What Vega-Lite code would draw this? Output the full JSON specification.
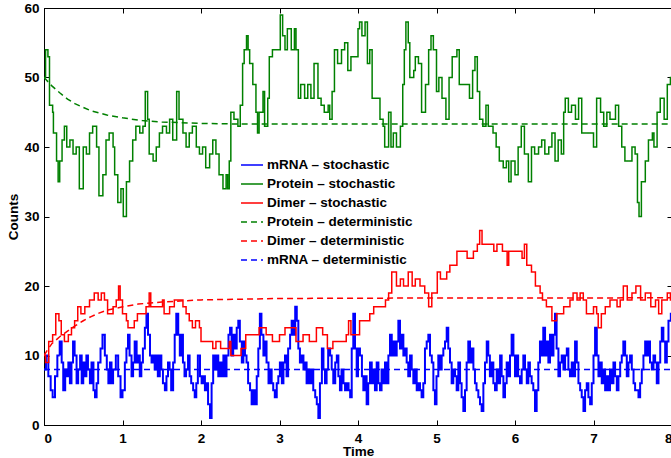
{
"$schema": "https://vega.github.io/schema/vega-lite/v6.json",
"width": 628, "height": 417,
"autosize": {"type": "none"},
"padding": {"left": 44, "top": 8, "right": 0, "bottom": 33},
"background": "white",
"config": {
  "view": {"stroke": "black", "strokeWidth": 1},
  "font": "Liberation Sans",
  "axis": {"domainColor": "black", "tickColor": "black", "labelColor": "black", "titleColor": "black", "labelFont": "Liberation Sans", "titleFont": "Liberation Sans", "labelFontSize": 13.5, "labelFontWeight": "bold", "titleFontSize": 13.5, "titleFontWeight": "bold", "grid": false, "tickSize": -5, "domainWidth": 1},
  "legend": {"orient": "none", "legendX": 196, "legendY": 145, "symbolType": "stroke", "symbolSize": 484, "symbolStrokeWidth": 1.5, "labelFont": "Liberation Sans", "labelFontSize": 13.5, "labelFontWeight": "bold", "labelColor": "black", "labelOffset": 3, "labelLimit": 300, "rowPadding": 0, "padding": 0, "offset": 0}
},
"datasets": {
"stoch": [
{"series":"ms","t":0,"count":8},{"series":"ms","t":0.025,"count":10},{"series":"ms","t":0.055,"count":7},{"series":"ms","t":0.085,"count":5},{"series":"ms","t":0.11,"count":4},{"series":"ms","t":0.14,"count":7},{"series":"ms","t":0.17,"count":10},{"series":"ms","t":0.2,"count":12},{"series":"ms","t":0.225,"count":9},{"series":"ms","t":0.245,"count":5},{"series":"ms","t":0.27,"count":8},{"series":"ms","t":0.29,"count":7},{"series":"ms","t":0.31,"count":9},{"series":"ms","t":0.33,"count":6},{"series":"ms","t":0.35,"count":9},{"series":"ms","t":0.37,"count":12},{"series":"ms","t":0.39,"count":10},{"series":"ms","t":0.415,"count":6},{"series":"ms","t":0.435,"count":8},{"series":"ms","t":0.46,"count":10},{"series":"ms","t":0.48,"count":6},{"series":"ms","t":0.5,"count":9},{"series":"ms","t":0.52,"count":7},{"series":"ms","t":0.54,"count":10},{"series":"ms","t":0.56,"count":8},{"series":"ms","t":0.585,"count":6},{"series":"ms","t":0.605,"count":9},{"series":"ms","t":0.63,"count":5},{"series":"ms","t":0.65,"count":4},{"series":"ms","t":0.67,"count":6},{"series":"ms","t":0.69,"count":9},{"series":"ms","t":0.72,"count":11},{"series":"ms","t":0.745,"count":13},{"series":"ms","t":0.775,"count":10},{"series":"ms","t":0.8,"count":8},{"series":"ms","t":0.82,"count":6},{"series":"ms","t":0.84,"count":9},{"series":"ms","t":0.86,"count":6},{"series":"ms","t":0.88,"count":8},{"series":"ms","t":0.915,"count":10},{"series":"ms","t":0.945,"count":7},{"series":"ms","t":0.975,"count":4},{"series":"ms","t":1.0,"count":5},{"series":"ms","t":1.03,"count":9},{"series":"ms","t":1.05,"count":11},{"series":"ms","t":1.07,"count":13},{"series":"ms","t":1.09,"count":10},{"series":"ms","t":1.115,"count":7},{"series":"ms","t":1.135,"count":9},{"series":"ms","t":1.155,"count":12},{"series":"ms","t":1.18,"count":9},{"series":"ms","t":1.2,"count":10},{"series":"ms","t":1.22,"count":7},{"series":"ms","t":1.24,"count":9},{"series":"ms","t":1.26,"count":11},{"series":"ms","t":1.285,"count":14},{"series":"ms","t":1.305,"count":16},{"series":"ms","t":1.325,"count":13},{"series":"ms","t":1.35,"count":10},{"series":"ms","t":1.37,"count":9},{"series":"ms","t":1.39,"count":10},{"series":"ms","t":1.41,"count":8},{"series":"ms","t":1.43,"count":10},{"series":"ms","t":1.45,"count":7},{"series":"ms","t":1.475,"count":10},{"series":"ms","t":1.495,"count":8},{"series":"ms","t":1.515,"count":6},{"series":"ms","t":1.54,"count":5},{"series":"ms","t":1.56,"count":7},{"series":"ms","t":1.58,"count":9},{"series":"ms","t":1.6,"count":8},{"series":"ms","t":1.62,"count":5},{"series":"ms","t":1.645,"count":9},{"series":"ms","t":1.665,"count":13},{"series":"ms","t":1.685,"count":16},{"series":"ms","t":1.71,"count":13},{"series":"ms","t":1.73,"count":10},{"series":"ms","t":1.75,"count":13},{"series":"ms","t":1.77,"count":9},{"series":"ms","t":1.79,"count":7},{"series":"ms","t":1.81,"count":8},{"series":"ms","t":1.835,"count":10},{"series":"ms","t":1.855,"count":7},{"series":"ms","t":1.875,"count":6},{"series":"ms","t":1.9,"count":5},{"series":"ms","t":1.92,"count":4},{"series":"ms","t":1.94,"count":6},{"series":"ms","t":1.96,"count":10},
{"series":"ms","t":1.987,"count":7},{"series":"ms","t":2.008,"count":6},{"series":"ms","t":2.03,"count":7},{"series":"ms","t":2.05,"count":5},{"series":"ms","t":2.07,"count":6},{"series":"ms","t":2.09,"count":3},{"series":"ms","t":2.115,"count":1},{"series":"ms","t":2.135,"count":6},{"series":"ms","t":2.155,"count":10},{"series":"ms","t":2.18,"count":8},{"series":"ms","t":2.2,"count":10},{"series":"ms","t":2.22,"count":7},{"series":"ms","t":2.24,"count":9},{"series":"ms","t":2.26,"count":7},{"series":"ms","t":2.285,"count":10},{"series":"ms","t":2.305,"count":7},{"series":"ms","t":2.325,"count":10},{"series":"ms","t":2.35,"count":13},{"series":"ms","t":2.37,"count":14},{"series":"ms","t":2.39,"count":10},{"series":"ms","t":2.41,"count":13},{"series":"ms","t":2.43,"count":11},{"series":"ms","t":2.455,"count":14},{"series":"ms","t":2.475,"count":15},{"series":"ms","t":2.495,"count":12},{"series":"ms","t":2.52,"count":9},{"series":"ms","t":2.54,"count":12},{"series":"ms","t":2.56,"count":10},{"series":"ms","t":2.58,"count":9},{"series":"ms","t":2.6,"count":6},{"series":"ms","t":2.625,"count":5},{"series":"ms","t":2.645,"count":3},{"series":"ms","t":2.665,"count":5},{"series":"ms","t":2.69,"count":3},{"series":"ms","t":2.71,"count":7},{"series":"ms","t":2.73,"count":11},{"series":"ms","t":2.75,"count":16},{"series":"ms","t":2.77,"count":13},{"series":"ms","t":2.795,"count":10},{"series":"ms","t":2.815,"count":12},{"series":"ms","t":2.835,"count":9},{"series":"ms","t":2.86,"count":6},{"series":"ms","t":2.88,"count":8},{"series":"ms","t":2.9,"count":6},{"series":"ms","t":2.92,"count":5},{"series":"ms","t":2.94,"count":4},{"series":"ms","t":2.965,"count":6},{"series":"ms","t":2.985,"count":7},{"series":"ms","t":3.005,"count":9},{"series":"ms","t":3.03,"count":6},{"series":"ms","t":3.05,"count":9},{"series":"ms","t":3.07,"count":10},{"series":"ms","t":3.09,"count":7},{"series":"ms","t":3.11,"count":11},{"series":"ms","t":3.135,"count":13},{"series":"ms","t":3.155,"count":15},{"series":"ms","t":3.175,"count":13},{"series":"ms","t":3.2,"count":17},{"series":"ms","t":3.22,"count":15},{"series":"ms","t":3.24,"count":11},{"series":"ms","t":3.26,"count":9},{"series":"ms","t":3.28,"count":10},{"series":"ms","t":3.305,"count":8},{"series":"ms","t":3.325,"count":9},{"series":"ms","t":3.345,"count":6},{"series":"ms","t":3.37,"count":8},{"series":"ms","t":3.39,"count":6},{"series":"ms","t":3.41,"count":8},{"series":"ms","t":3.43,"count":5},{"series":"ms","t":3.455,"count":4},{"series":"ms","t":3.475,"count":3},{"series":"ms","t":3.495,"count":1},{"series":"ms","t":3.515,"count":6},{"series":"ms","t":3.54,"count":11},{"series":"ms","t":3.56,"count":8},{"series":"ms","t":3.58,"count":6},{"series":"ms","t":3.6,"count":8},{"series":"ms","t":3.62,"count":11},{"series":"ms","t":3.645,"count":10},{"series":"ms","t":3.665,"count":8},{"series":"ms","t":3.685,"count":6},{"series":"ms","t":3.71,"count":9},{"series":"ms","t":3.73,"count":10},{"series":"ms","t":3.75,"count":7},{"series":"ms","t":3.77,"count":5},{"series":"ms","t":3.79,"count":8},{"series":"ms","t":3.815,"count":6},{"series":"ms","t":3.835,"count":5},{"series":"ms","t":3.855,"count":6},{"series":"ms","t":3.88,"count":5},{"series":"ms","t":3.9,"count":4},{"series":"ms","t":3.92,"count":11},{"series":"ms","t":3.94,"count":16},
{"series":"ms","t":3.962,"count":11},{"series":"ms","t":3.983,"count":7},{"series":"ms","t":4.0,"count":11},{"series":"ms","t":4.025,"count":10},{"series":"ms","t":4.05,"count":7},{"series":"ms","t":4.068,"count":5},{"series":"ms","t":4.09,"count":7},{"series":"ms","t":4.11,"count":3},{"series":"ms","t":4.13,"count":6},{"series":"ms","t":4.153,"count":9},{"series":"ms","t":4.175,"count":6},{"series":"ms","t":4.195,"count":8},{"series":"ms","t":4.216,"count":5},{"series":"ms","t":4.238,"count":9},{"series":"ms","t":4.26,"count":6},{"series":"ms","t":4.28,"count":5},{"series":"ms","t":4.3,"count":8},{"series":"ms","t":4.323,"count":6},{"series":"ms","t":4.344,"count":9},{"series":"ms","t":4.365,"count":6},{"series":"ms","t":4.387,"count":10},{"series":"ms","t":4.408,"count":13},{"series":"ms","t":4.43,"count":10},{"series":"ms","t":4.45,"count":12},{"series":"ms","t":4.47,"count":10},{"series":"ms","t":4.493,"count":12},{"series":"ms","t":4.514,"count":15},{"series":"ms","t":4.535,"count":11},{"series":"ms","t":4.556,"count":13},{"series":"ms","t":4.578,"count":10},{"series":"ms","t":4.6,"count":11},{"series":"ms","t":4.62,"count":9},{"series":"ms","t":4.64,"count":7},{"series":"ms","t":4.663,"count":10},{"series":"ms","t":4.684,"count":8},{"series":"ms","t":4.705,"count":6},{"series":"ms","t":4.727,"count":8},{"series":"ms","t":4.748,"count":5},{"series":"ms","t":4.77,"count":6},{"series":"ms","t":4.79,"count":5},{"series":"ms","t":4.81,"count":4},{"series":"ms","t":4.832,"count":6},{"series":"ms","t":4.853,"count":11},{"series":"ms","t":4.875,"count":12},{"series":"ms","t":4.896,"count":13},{"series":"ms","t":4.917,"count":10},{"series":"ms","t":4.94,"count":9},{"series":"ms","t":4.96,"count":5},{"series":"ms","t":4.98,"count":3},{"series":"ms","t":5.0,"count":7},{"series":"ms","t":5.023,"count":10},{"series":"ms","t":5.045,"count":8},{"series":"ms","t":5.066,"count":10},{"series":"ms","t":5.087,"count":11},{"series":"ms","t":5.108,"count":12},{"series":"ms","t":5.13,"count":14},{"series":"ms","t":5.15,"count":11},{"series":"ms","t":5.172,"count":9},{"series":"ms","t":5.193,"count":6},{"series":"ms","t":5.214,"count":8},{"series":"ms","t":5.236,"count":7},{"series":"ms","t":5.257,"count":5},{"series":"ms","t":5.278,"count":9},{"series":"ms","t":5.3,"count":6},{"series":"ms","t":5.32,"count":4},{"series":"ms","t":5.342,"count":2},{"series":"ms","t":5.363,"count":5},{"series":"ms","t":5.384,"count":9},{"series":"ms","t":5.405,"count":12},{"series":"ms","t":5.427,"count":9},{"series":"ms","t":5.448,"count":11},{"series":"ms","t":5.47,"count":8},{"series":"ms","t":5.49,"count":6},{"series":"ms","t":5.51,"count":5},{"series":"ms","t":5.533,"count":4},{"series":"ms","t":5.554,"count":3},{"series":"ms","t":5.575,"count":2},{"series":"ms","t":5.597,"count":6},{"series":"ms","t":5.618,"count":9},{"series":"ms","t":5.64,"count":12},{"series":"ms","t":5.66,"count":10},{"series":"ms","t":5.68,"count":7},{"series":"ms","t":5.703,"count":9},{"series":"ms","t":5.724,"count":6},{"series":"ms","t":5.745,"count":5},{"series":"ms","t":5.767,"count":8},{"series":"ms","t":5.788,"count":6},{"series":"ms","t":5.81,"count":10},{"series":"ms","t":5.83,"count":7},{"series":"ms","t":5.852,"count":4},{"series":"ms","t":5.873,"count":6},{"series":"ms","t":5.894,"count":9},{"series":"ms","t":5.915,"count":7},
{"series":"ms","t":5.936,"count":10},{"series":"ms","t":5.957,"count":13},{"series":"ms","t":5.98,"count":10},{"series":"ms","t":6.0,"count":7},{"series":"ms","t":6.02,"count":10},{"series":"ms","t":6.04,"count":7},{"series":"ms","t":6.064,"count":6},{"series":"ms","t":6.085,"count":8},{"series":"ms","t":6.106,"count":10},{"series":"ms","t":6.127,"count":8},{"series":"ms","t":6.15,"count":6},{"series":"ms","t":6.17,"count":9},{"series":"ms","t":6.19,"count":7},{"series":"ms","t":6.212,"count":6},{"series":"ms","t":6.233,"count":5},{"series":"ms","t":6.255,"count":2},{"series":"ms","t":6.276,"count":5},{"series":"ms","t":6.297,"count":9},{"series":"ms","t":6.318,"count":12},{"series":"ms","t":6.34,"count":10},{"series":"ms","t":6.36,"count":14},{"series":"ms","t":6.383,"count":10},{"series":"ms","t":6.404,"count":12},{"series":"ms","t":6.425,"count":9},{"series":"ms","t":6.446,"count":13},{"series":"ms","t":6.468,"count":10},{"series":"ms","t":6.49,"count":13},{"series":"ms","t":6.51,"count":16},{"series":"ms","t":6.53,"count":11},{"series":"ms","t":6.553,"count":7},{"series":"ms","t":6.574,"count":9},{"series":"ms","t":6.595,"count":10},{"series":"ms","t":6.617,"count":8},{"series":"ms","t":6.638,"count":10},{"series":"ms","t":6.66,"count":11},{"series":"ms","t":6.68,"count":8},{"series":"ms","t":6.7,"count":7},{"series":"ms","t":6.723,"count":9},{"series":"ms","t":6.744,"count":7},{"series":"ms","t":6.765,"count":12},{"series":"ms","t":6.787,"count":9},{"series":"ms","t":6.808,"count":6},{"series":"ms","t":6.83,"count":5},{"series":"ms","t":6.85,"count":4},{"series":"ms","t":6.872,"count":2},{"series":"ms","t":6.893,"count":5},{"series":"ms","t":6.914,"count":6},{"series":"ms","t":6.935,"count":4},{"series":"ms","t":6.957,"count":3},{"series":"ms","t":6.978,"count":6},{"series":"ms","t":7.0,"count":10},{"series":"ms","t":7.02,"count":14},{"series":"ms","t":7.042,"count":10},{"series":"ms","t":7.063,"count":7},{"series":"ms","t":7.085,"count":9},{"series":"ms","t":7.105,"count":6},{"series":"ms","t":7.127,"count":8},{"series":"ms","t":7.148,"count":5},{"series":"ms","t":7.17,"count":7},{"series":"ms","t":7.19,"count":5},{"series":"ms","t":7.21,"count":8},{"series":"ms","t":7.233,"count":6},{"series":"ms","t":7.254,"count":9},{"series":"ms","t":7.275,"count":7},{"series":"ms","t":7.297,"count":5},{"series":"ms","t":7.318,"count":7},{"series":"ms","t":7.34,"count":9},{"series":"ms","t":7.36,"count":10},{"series":"ms","t":7.38,"count":12},{"series":"ms","t":7.403,"count":10},{"series":"ms","t":7.424,"count":7},{"series":"ms","t":7.445,"count":9},{"series":"ms","t":7.466,"count":10},{"series":"ms","t":7.488,"count":8},{"series":"ms","t":7.51,"count":6},{"series":"ms","t":7.53,"count":5},{"series":"ms","t":7.573,"count":4},{"series":"ms","t":7.594,"count":6},{"series":"ms","t":7.615,"count":8},{"series":"ms","t":7.636,"count":10},{"series":"ms","t":7.658,"count":12},{"series":"ms","t":7.68,"count":10},{"series":"ms","t":7.7,"count":12},{"series":"ms","t":7.72,"count":9},{"series":"ms","t":7.743,"count":8},{"series":"ms","t":7.764,"count":10},{"series":"ms","t":7.785,"count":9},{"series":"ms","t":7.806,"count":6},{"series":"ms","t":7.828,"count":9},{"series":"ms","t":7.85,"count":12},{"series":"ms","t":7.87,"count":14},{"series":"ms","t":7.89,"count":12},{"series":"ms","t":7.913,"count":9},{"series":"ms","t":7.934,"count":12},{"series":"ms","t":7.955,"count":15},{"series":"ms","t":7.985,"count":16},{"series":"ms","t":8.0,"count":16},
{"series":"ps","t":0,"count":50},{"series":"ps","t":0.02,"count":54},{"series":"ps","t":0.05,"count":53},{"series":"ps","t":0.07,"count":46},{"series":"ps","t":0.11,"count":45},{"series":"ps","t":0.12,"count":42},{"series":"ps","t":0.16,"count":38},{"series":"ps","t":0.18,"count":35},{"series":"ps","t":0.2,"count":38},{"series":"ps","t":0.23,"count":41},{"series":"ps","t":0.26,"count":43},{"series":"ps","t":0.29,"count":40},{"series":"ps","t":0.33,"count":41},{"series":"ps","t":0.37,"count":39},{"series":"ps","t":0.41,"count":40},{"series":"ps","t":0.45,"count":34},{"series":"ps","t":0.5,"count":40},{"series":"ps","t":0.54,"count":39},{"series":"ps","t":0.58,"count":42},{"series":"ps","t":0.62,"count":43},{"series":"ps","t":0.67,"count":40},{"series":"ps","t":0.7,"count":33},{"series":"ps","t":0.75,"count":36},{"series":"ps","t":0.79,"count":41},{"series":"ps","t":0.83,"count":42},{"series":"ps","t":0.88,"count":40},{"series":"ps","t":0.9,"count":36},{"series":"ps","t":0.94,"count":32},{"series":"ps","t":0.98,"count":34},{"series":"ps","t":1.01,"count":30},{"series":"ps","t":1.05,"count":35},{"series":"ps","t":1.09,"count":38},{"series":"ps","t":1.13,"count":41},{"series":"ps","t":1.17,"count":43},{"series":"ps","t":1.22,"count":42},{"series":"ps","t":1.26,"count":43},{"series":"ps","t":1.29,"count":48},{"series":"ps","t":1.32,"count":44},{"series":"ps","t":1.34,"count":39},{"series":"ps","t":1.39,"count":38},{"series":"ps","t":1.43,"count":40},{"series":"ps","t":1.47,"count":42},{"series":"ps","t":1.51,"count":43},{"series":"ps","t":1.56,"count":42},{"series":"ps","t":1.6,"count":44},{"series":"ps","t":1.64,"count":41},{"series":"ps","t":1.69,"count":48},{"series":"ps","t":1.72,"count":44},{"series":"ps","t":1.77,"count":42},{"series":"ps","t":1.81,"count":40},{"series":"ps","t":1.85,"count":42},{"series":"ps","t":1.89,"count":43},{"series":"ps","t":1.94,"count":40},{"series":"ps","t":1.98,"count":39},{"series":"ps","t":2.02,"count":40},{"series":"ps","t":2.06,"count":37},{"series":"ps","t":2.11,"count":39},{"series":"ps","t":2.15,"count":41},{"series":"ps","t":2.19,"count":39},{"series":"ps","t":2.23,"count":36},{"series":"ps","t":2.28,"count":34},{"series":"ps","t":2.32,"count":36},{"series":"ps","t":2.34,"count":34},{"series":"ps","t":2.36,"count":38},{"series":"ps","t":2.38,"count":45},{"series":"ps","t":2.42,"count":44},{"series":"ps","t":2.47,"count":43},{"series":"ps","t":2.5,"count":46},{"series":"ps","t":2.53,"count":52},{"series":"ps","t":2.55,"count":54},
{"series":"ps","t":2.58,"count":56},{"series":"ps","t":2.6,"count":54},{"series":"ps","t":2.62,"count":52},{"series":"ps","t":2.66,"count":49},{"series":"ps","t":2.7,"count":45},{"series":"ps","t":2.72,"count":42},{"series":"ps","t":2.74,"count":45},{"series":"ps","t":2.79,"count":48},{"series":"ps","t":2.81,"count":43},{"series":"ps","t":2.85,"count":47},{"series":"ps","t":2.87,"count":53},{"series":"ps","t":2.91,"count":54},{"series":"ps","t":2.96,"count":54},{"series":"ps","t":3.01,"count":59},{"series":"ps","t":3.04,"count":56},{"series":"ps","t":3.07,"count":54},{"series":"ps","t":3.1,"count":57},{"series":"ps","t":3.15,"count":54},{"series":"ps","t":3.19,"count":57},{"series":"ps","t":3.21,"count":54},{"series":"ps","t":3.24,"count":47},{"series":"ps","t":3.27,"count":49},{"series":"ps","t":3.32,"count":47},{"series":"ps","t":3.36,"count":49},{"series":"ps","t":3.4,"count":47},{"series":"ps","t":3.44,"count":52},{"series":"ps","t":3.49,"count":47},{"series":"ps","t":3.53,"count":46},{"series":"ps","t":3.57,"count":45},{"series":"ps","t":3.62,"count":46},{"series":"ps","t":3.64,"count":44},{"series":"ps","t":3.67,"count":48},{"series":"ps","t":3.7,"count":54},{"series":"ps","t":3.74,"count":52},{"series":"ps","t":3.79,"count":54},{"series":"ps","t":3.83,"count":55},{"series":"ps","t":3.87,"count":51},{"series":"ps","t":3.91,"count":53},
{"series":"ps","t":3.96,"count":53},{"series":"ps","t":4.0,"count":57},{"series":"ps","t":4.02,"count":58},{"series":"ps","t":4.05,"count":56},{"series":"ps","t":4.09,"count":58},{"series":"ps","t":4.12,"count":52},{"series":"ps","t":4.15,"count":54},{"series":"ps","t":4.18,"count":47},{"series":"ps","t":4.28,"count":44},{"series":"ps","t":4.32,"count":43},{"series":"ps","t":4.34,"count":40},{"series":"ps","t":4.39,"count":45},{"series":"ps","t":4.42,"count":40},{"series":"ps","t":4.45,"count":42},{"series":"ps","t":4.49,"count":40},{"series":"ps","t":4.54,"count":43},{"series":"ps","t":4.57,"count":49},{"series":"ps","t":4.59,"count":54},{"series":"ps","t":4.61,"count":58},{"series":"ps","t":4.64,"count":55},{"series":"ps","t":4.66,"count":50},{"series":"ps","t":4.71,"count":51},{"series":"ps","t":4.73,"count":53},{"series":"ps","t":4.77,"count":52},{"series":"ps","t":4.81,"count":45},{"series":"ps","t":4.86,"count":49},{"series":"ps","t":4.9,"count":54},{"series":"ps","t":4.93,"count":56},{"series":"ps","t":4.96,"count":54},{"series":"ps","t":5.0,"count":48},{"series":"ps","t":5.03,"count":50},{"series":"ps","t":5.07,"count":47},{"series":"ps","t":5.12,"count":44},{"series":"ps","t":5.16,"count":50},{"series":"ps","t":5.2,"count":53},{"series":"ps","t":5.26,"count":54},{"series":"ps","t":5.29,"count":49},{"series":"ps","t":5.42,"count":47},{"series":"ps","t":5.46,"count":51},{"series":"ps","t":5.49,"count":53},{"series":"ps","t":5.52,"count":48},{"series":"ps","t":5.55,"count":44},{"series":"ps","t":5.59,"count":43},{"series":"ps","t":5.63,"count":46},{"series":"ps","t":5.66,"count":43},{"series":"ps","t":5.72,"count":42},{"series":"ps","t":5.76,"count":40},{"series":"ps","t":5.8,"count":38},{"series":"ps","t":5.85,"count":37},{"series":"ps","t":5.89,"count":38},{"series":"ps","t":5.92,"count":35},{"series":"ps","t":5.95,"count":38},{"series":"ps","t":6.0,"count":36},{"series":"ps","t":6.04,"count":40},{"series":"ps","t":6.08,"count":43},{"series":"ps","t":6.12,"count":39},{"series":"ps","t":6.17,"count":35},{"series":"ps","t":6.21,"count":40},{"series":"ps","t":6.25,"count":39},{"series":"ps","t":6.3,"count":40},{"series":"ps","t":6.34,"count":41},{"series":"ps","t":6.38,"count":39},{"series":"ps","t":6.43,"count":40},{"series":"ps","t":6.47,"count":42},{"series":"ps","t":6.51,"count":38},{"series":"ps","t":6.55,"count":41},{"series":"ps","t":6.59,"count":39},{"series":"ps","t":6.62,"count":45},{"series":"ps","t":6.64,"count":47},{"series":"ps","t":6.68,"count":45},{"series":"ps","t":6.72,"count":46},{"series":"ps","t":6.77,"count":44},{"series":"ps","t":6.81,"count":47},{"series":"ps","t":6.85,"count":42},{"series":"ps","t":7.0,"count":40},{"series":"ps","t":7.04,"count":47},{"series":"ps","t":7.09,"count":45},{"series":"ps","t":7.13,"count":43},{"series":"ps","t":7.17,"count":45},{"series":"ps","t":7.21,"count":44},{"series":"ps","t":7.28,"count":46},{"series":"ps","t":7.32,"count":43},{"series":"ps","t":7.36,"count":40},{"series":"ps","t":7.4,"count":38},{"series":"ps","t":7.49,"count":40},{"series":"ps","t":7.53,"count":39},{"series":"ps","t":7.56,"count":32},{"series":"ps","t":7.58,"count":30},{"series":"ps","t":7.61,"count":35},{"series":"ps","t":7.66,"count":38},{"series":"ps","t":7.7,"count":41},{"series":"ps","t":7.75,"count":42},{"series":"ps","t":7.77,"count":40},{"series":"ps","t":7.81,"count":45},{"series":"ps","t":7.85,"count":47},{"series":"ps","t":7.9,"count":44},{"series":"ps","t":7.94,"count":49},{"series":"ps","t":7.98,"count":50},{"series":"ps","t":8.0,"count":52},
{"series":"ds","t":0,"count":10},{"series":"ds","t":0.02,"count":9},{"series":"ds","t":0.06,"count":12},{"series":"ds","t":0.11,"count":13},{"series":"ds","t":0.15,"count":16},{"series":"ds","t":0.19,"count":15},{"series":"ds","t":0.22,"count":13},{"series":"ds","t":0.26,"count":12},{"series":"ds","t":0.31,"count":13},{"series":"ds","t":0.35,"count":14},{"series":"ds","t":0.39,"count":15},{"series":"ds","t":0.43,"count":17},{"series":"ds","t":0.47,"count":16},{"series":"ds","t":0.52,"count":17},{"series":"ds","t":0.58,"count":18},{"series":"ds","t":0.64,"count":19},{"series":"ds","t":0.69,"count":18},{"series":"ds","t":0.73,"count":19},{"series":"ds","t":0.77,"count":18},{"series":"ds","t":0.81,"count":16},{"series":"ds","t":0.88,"count":17},{"series":"ds","t":0.92,"count":18},{"series":"ds","t":0.95,"count":20},{"series":"ds","t":0.97,"count":18},{"series":"ds","t":1.0,"count":16},{"series":"ds","t":1.05,"count":15},{"series":"ds","t":1.07,"count":14},{"series":"ds","t":1.15,"count":15},{"series":"ds","t":1.19,"count":16},{"series":"ds","t":1.3,"count":17},{"series":"ds","t":1.34,"count":19},{"series":"ds","t":1.36,"count":17},{"series":"ds","t":1.51,"count":18},{"series":"ds","t":1.53,"count":16},{"series":"ds","t":1.6,"count":17},{"series":"ds","t":1.66,"count":18},{"series":"ds","t":1.77,"count":17},{"series":"ds","t":1.81,"count":16},{"series":"ds","t":1.85,"count":15},{"series":"ds","t":1.89,"count":14},{"series":"ds","t":1.93,"count":15},{"series":"ds","t":1.98,"count":14},{"series":"ds","t":2.0,"count":12},{"series":"ds","t":2.15,"count":11},{"series":"ds","t":2.19,"count":12},{"series":"ds","t":2.25,"count":11},{"series":"ds","t":2.36,"count":12},{"series":"ds","t":2.38,"count":10},{"series":"ds","t":2.51,"count":11},{"series":"ds","t":2.57,"count":13},{"series":"ds","t":2.74,"count":14},{"series":"ds","t":2.83,"count":13},{"series":"ds","t":2.91,"count":12},{"series":"ds","t":3.0,"count":13},{"series":"ds","t":3.07,"count":14},{"series":"ds","t":3.21,"count":12},{"series":"ds","t":3.3,"count":13},{"series":"ds","t":3.38,"count":12},{"series":"ds","t":3.47,"count":14},{"series":"ds","t":3.55,"count":13},{"series":"ds","t":3.61,"count":11},{"series":"ds","t":3.68,"count":12},{"series":"ds","t":3.85,"count":13},{"series":"ds","t":3.88,"count":15},{"series":"ds","t":3.91,"count":13},{"series":"ds","t":4.02,"count":15},{"series":"ds","t":4.15,"count":16},{"series":"ds","t":4.2,"count":17},{"series":"ds","t":4.35,"count":18},{"series":"ds","t":4.39,"count":19},{"series":"ds","t":4.43,"count":22},{"series":"ds","t":4.49,"count":20},{"series":"ds","t":4.54,"count":21},{"series":"ds","t":4.58,"count":20},{"series":"ds","t":4.64,"count":22},{"series":"ds","t":4.69,"count":20},{"series":"ds","t":4.73,"count":21},{"series":"ds","t":4.79,"count":20},{"series":"ds","t":4.85,"count":19},{"series":"ds","t":4.9,"count":17},{"series":"ds","t":4.94,"count":19},{"series":"ds","t":5.01,"count":22},{"series":"ds","t":5.05,"count":21},{"series":"ds","t":5.13,"count":22},{"series":"ds","t":5.17,"count":23},{"series":"ds","t":5.26,"count":25},{"series":"ds","t":5.39,"count":24},{"series":"ds","t":5.47,"count":25},{"series":"ds","t":5.52,"count":26},{"series":"ds","t":5.55,"count":28},{"series":"ds","t":5.58,"count":26},{"series":"ds","t":5.73,"count":25},{"series":"ds","t":5.77,"count":26},{"series":"ds","t":5.84,"count":25},{"series":"ds","t":5.9,"count":23},{"series":"ds","t":5.92,"count":25},{"series":"ds","t":6.09,"count":24},{"series":"ds","t":6.12,"count":26},{"series":"ds","t":6.15,"count":23},{"series":"ds","t":6.21,"count":22},{"series":"ds","t":6.26,"count":20},{"series":"ds","t":6.32,"count":19},{"series":"ds","t":6.35,"count":18},{"series":"ds","t":6.4,"count":17},{"series":"ds","t":6.47,"count":15},{"series":"ds","t":6.53,"count":16},{"series":"ds","t":6.62,"count":17},{"series":"ds","t":6.7,"count":18},{"series":"ds","t":6.74,"count":19},{"series":"ds","t":6.79,"count":18},{"series":"ds","t":6.83,"count":19},{"series":"ds","t":6.87,"count":18},{"series":"ds","t":6.91,"count":16},{"series":"ds","t":7.0,"count":17},{"series":"ds","t":7.04,"count":16},{"series":"ds","t":7.06,"count":14},{"series":"ds","t":7.1,"count":16},{"series":"ds","t":7.15,"count":17},{"series":"ds","t":7.21,"count":18},{"series":"ds","t":7.3,"count":17},{"series":"ds","t":7.34,"count":18},{"series":"ds","t":7.38,"count":20},{"series":"ds","t":7.43,"count":18},{"series":"ds","t":7.49,"count":19},{"series":"ds","t":7.54,"count":20},{"series":"ds","t":7.6,"count":18},{"series":"ds","t":7.66,"count":19},{"series":"ds","t":7.73,"count":17},{"series":"ds","t":7.79,"count":18},{"series":"ds","t":7.83,"count":16},{"series":"ds","t":7.87,"count":18},{"series":"ds","t":7.94,"count":19},{"series":"ds","t":7.98,"count":18},{"series":"ds","t":8.0,"count":18}
],
"det": [
{"series":"pd","t":0,"count":50},{"series":"pd","t":0.1,"count":48.8},{"series":"pd","t":0.2,"count":47.8},{"series":"pd","t":0.3,"count":46.9},{"series":"pd","t":0.4,"count":46.2},{"series":"pd","t":0.5,"count":45.7},{"series":"pd","t":0.6,"count":45.2},{"series":"pd","t":0.7,"count":44.9},{"series":"pd","t":0.8,"count":44.6},{"series":"pd","t":1.0,"count":44.2},{"series":"pd","t":1.25,"count":43.8},{"series":"pd","t":1.5,"count":43.6},{"series":"pd","t":2.0,"count":43.4},{"series":"pd","t":2.5,"count":43.3},{"series":"pd","t":8,"count":43.3},
{"series":"dd","t":0,"count":10},{"series":"dd","t":0.05,"count":10.9},{"series":"dd","t":0.1,"count":11.7},{"series":"dd","t":0.2,"count":12.7},{"series":"dd","t":0.3,"count":13.5},{"series":"dd","t":0.4,"count":14.3},{"series":"dd","t":0.5,"count":15.0},{"series":"dd","t":0.6,"count":15.6},{"series":"dd","t":0.7,"count":16.1},{"series":"dd","t":0.8,"count":16.5},{"series":"dd","t":1.0,"count":17.0},{"series":"dd","t":1.2,"count":17.4},{"series":"dd","t":1.5,"count":17.7},{"series":"dd","t":2.0,"count":18.0},{"series":"dd","t":2.5,"count":18.1},{"series":"dd","t":3.0,"count":18.2},{"series":"dd","t":4.0,"count":18.25},{"series":"dd","t":8,"count":18.3},
{"series":"md","t":0,"count":8},{"series":"md","t":8,"count":8}
]
},
"layer": [
{
 "data": {"name": "stoch"},
 "transform": [{"filter": "datum.series == 'ms'"}],
 "mark": {"type": "line", "interpolate": "step-after", "strokeWidth": 2, "clip": true},
 "encoding": {
  "x": {"field": "t", "type": "quantitative", "scale": {"domain": [0, 8], "nice": false}, "axis": {"orient": "bottom", "values": [0,1,2,3,4,5,6,7,8], "title": "Time", "labelPadding": 11, "titlePadding": 0}},
  "y": {"field": "count", "type": "quantitative", "scale": {"domain": [0, 60], "nice": false}, "axis": {"orient": "left", "values": [0,10,20,30,40,50,60], "title": "Counts", "labelPadding": 10, "titlePadding": 3}},
  "color": {"field": "series", "type": "nominal", "scale": {"domain": ["ms","ps","ds","pd","dd","md"], "range": ["#0000ff","#008000","#ff0000","#008000","#ff0000","#0000ff"]}, "legend": {"title": null, "labelExpr": "datum.label == 'ms' ? 'mRNA – stochastic' : datum.label == 'ps' ? 'Protein – stochastic' : datum.label == 'ds' ? 'Dimer – stochastic' : datum.label == 'pd' ? 'Protein – deterministic' : datum.label == 'dd' ? 'Dimer – deterministic' : 'mRNA – deterministic'"}},
  "strokeDash": {"field": "series", "type": "nominal", "scale": {"domain": ["ms","ps","ds","pd","dd","md"], "range": [[1,0],[1,0],[1,0],[6,4],[6,4],[6,4]]}, "legend": {"title": null, "labelExpr": "datum.label == 'ms' ? 'mRNA – stochastic' : datum.label == 'ps' ? 'Protein – stochastic' : datum.label == 'ds' ? 'Dimer – stochastic' : datum.label == 'pd' ? 'Protein – deterministic' : datum.label == 'dd' ? 'Dimer – deterministic' : 'mRNA – deterministic'"}}
 }
},
{
 "data": {"name": "stoch"},
 "transform": [{"filter": "datum.series != 'ms'"}],
 "mark": {"type": "line", "interpolate": "step-after", "strokeWidth": 1.5, "clip": true},
 "encoding": {
  "x": {"field": "t", "type": "quantitative", "axis": null},
  "y": {"field": "count", "type": "quantitative", "axis": null},
  "color": {"field": "series", "type": "nominal"},
  "strokeDash": {"field": "series", "type": "nominal"}
 }
},
{
 "data": {"name": "det"},
 "mark": {"type": "line", "strokeWidth": 1.5, "clip": true},
 "encoding": {
  "x": {"field": "t", "type": "quantitative", "axis": {"orient": "top", "values": [0,1,2,3,4,5,6,7,8], "labels": false, "title": null}},
  "y": {"field": "count", "type": "quantitative", "axis": {"orient": "right", "values": [0,10,20,30,40,50,60], "labels": false, "title": null}},
  "color": {"field": "series", "type": "nominal"},
  "strokeDash": {"field": "series", "type": "nominal"}
 }
}
],
"resolve": {"axis": {"x": "independent", "y": "independent"}}
}
